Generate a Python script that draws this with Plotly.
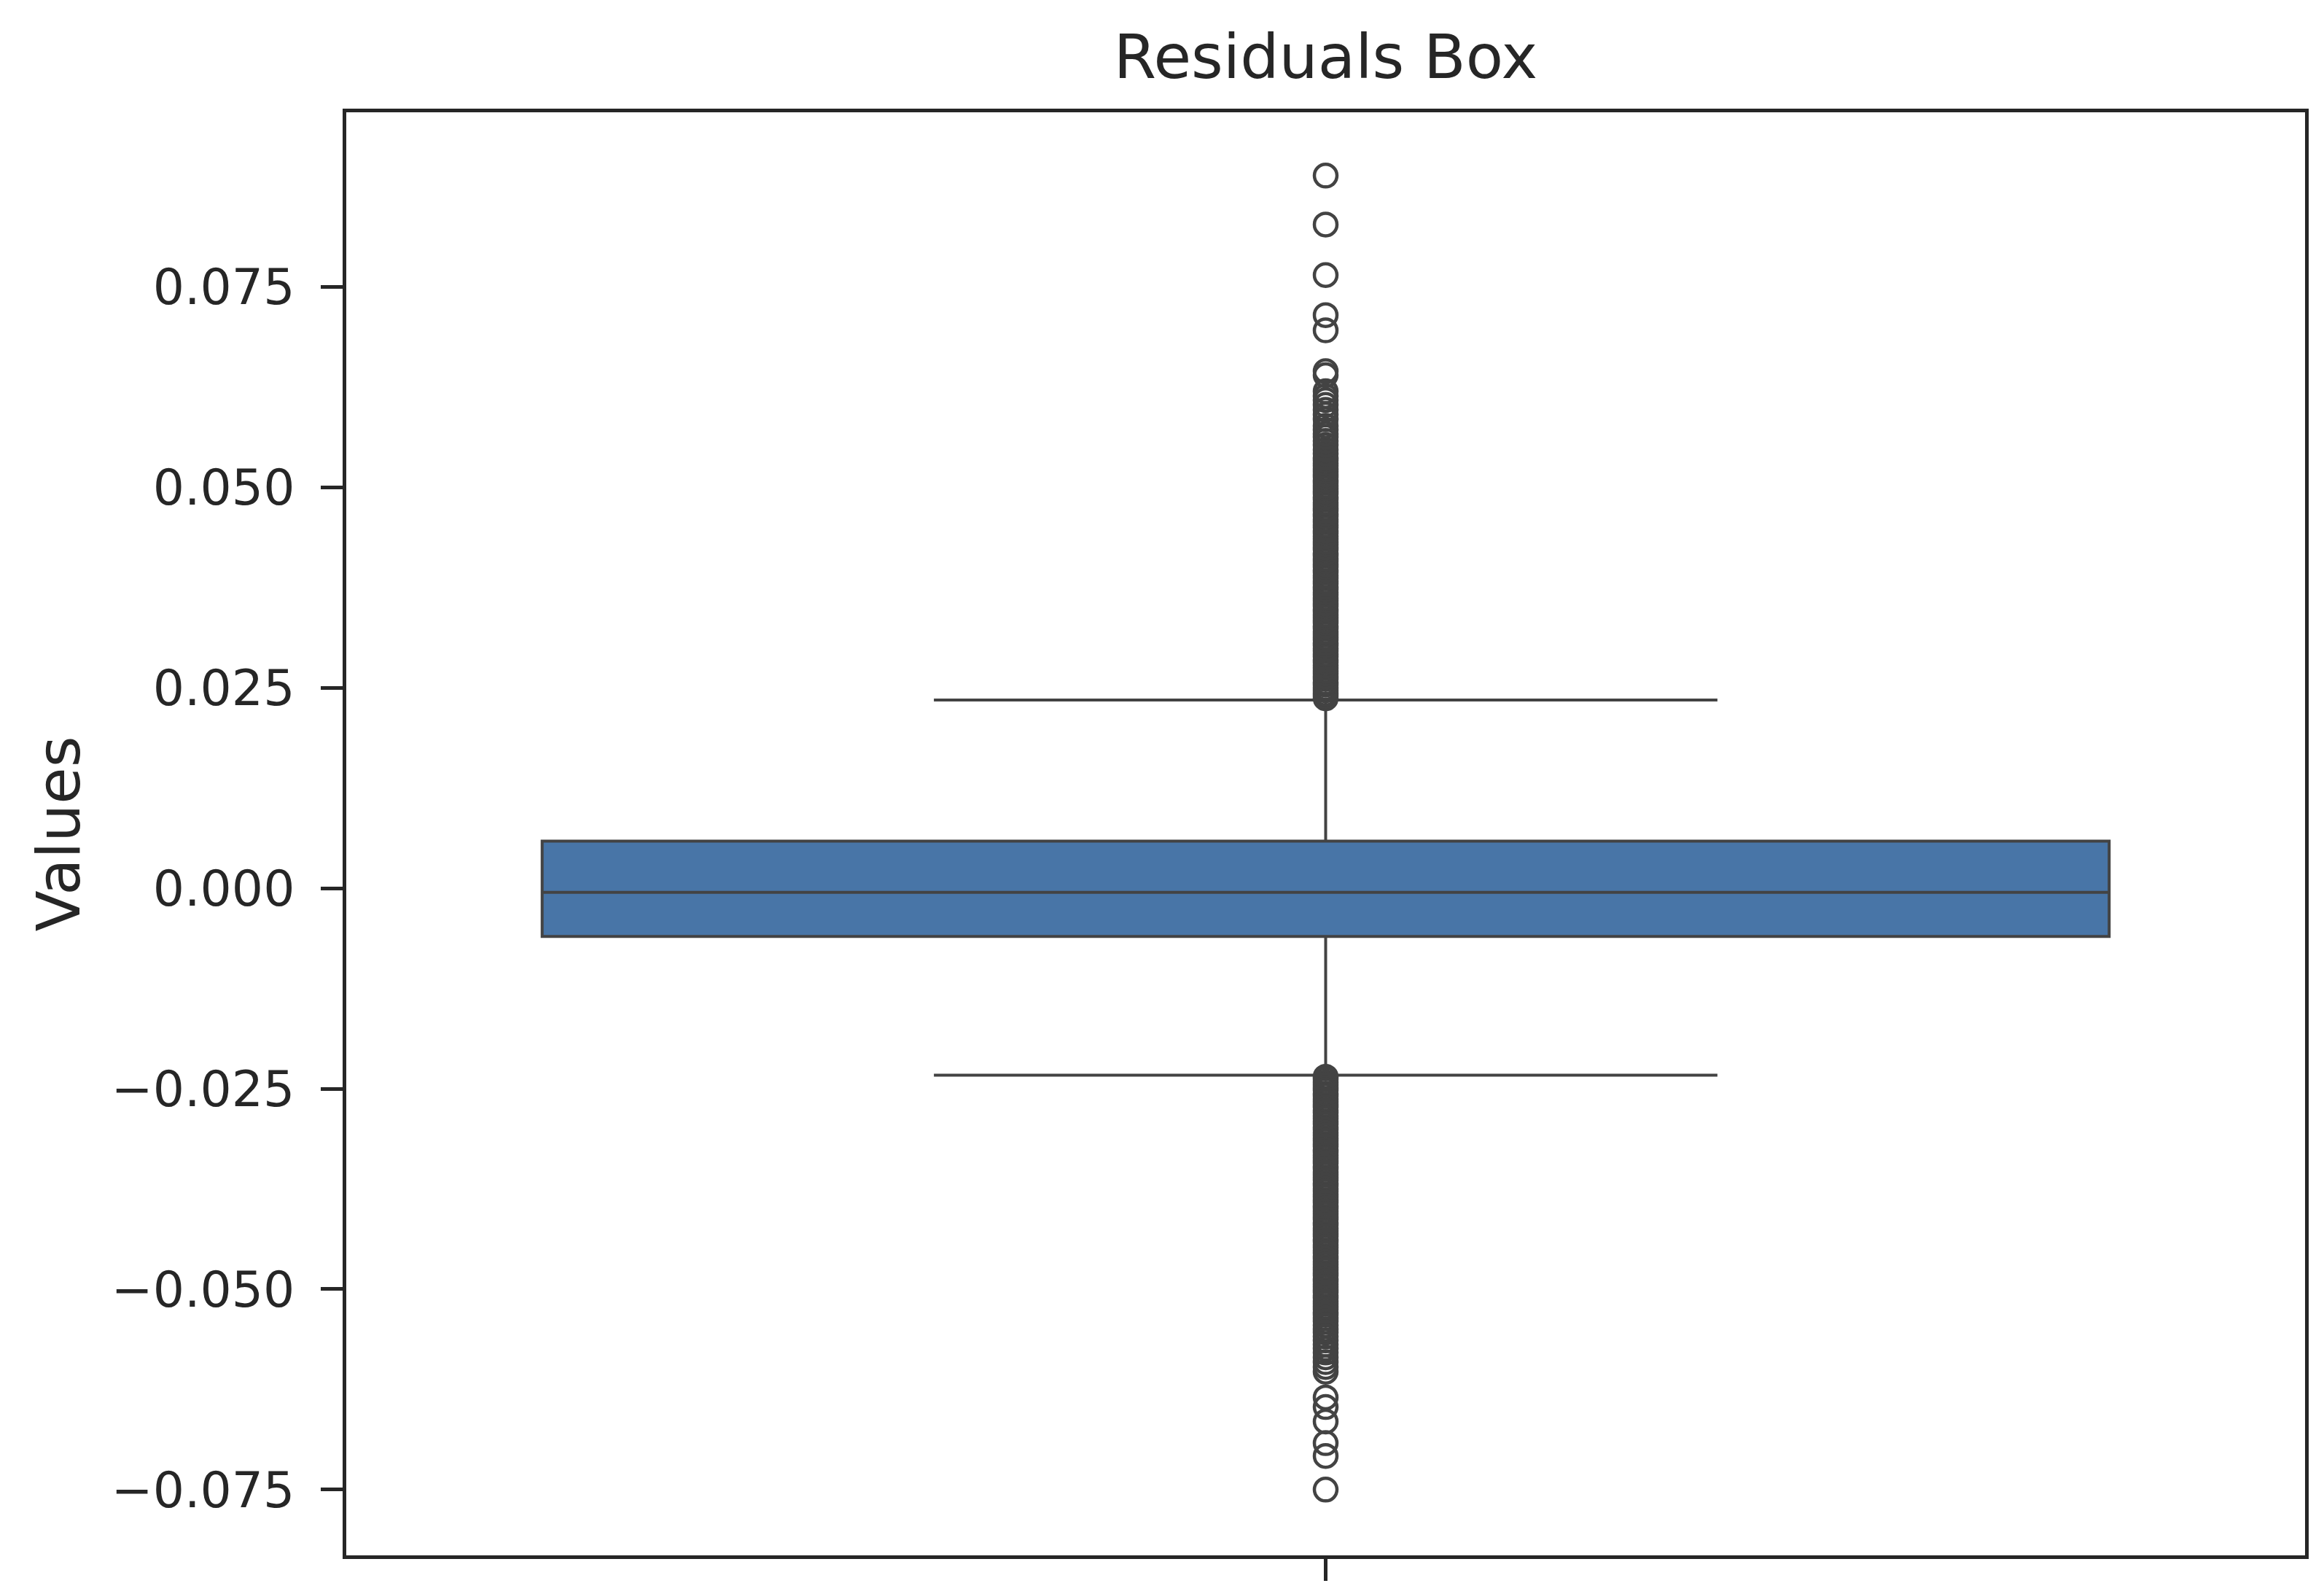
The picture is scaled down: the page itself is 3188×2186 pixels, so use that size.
import plotly.graph_objects as go

# ---------------- data ----------------
category = [0]
box_q1 = [-0.0060]
box_median = [-0.0005]
box_q3 = [0.0059]
whisker_low = [-0.0233]
whisker_high = [0.0235]

outliers_high = [
    0.0237, 0.0240, 0.0243, 0.0247, 0.0250, 0.0254, 0.0257, 0.0261, 0.0264, 0.0268,
    0.0271, 0.0275, 0.0278, 0.0282, 0.0285, 0.0289, 0.0292, 0.0296, 0.0299, 0.0303,
    0.0306, 0.0310, 0.0313, 0.0317, 0.0320, 0.0324, 0.0327, 0.0331, 0.0334, 0.0338,
    0.0341, 0.0345, 0.0348, 0.0352, 0.0355, 0.0359, 0.0362, 0.0366, 0.0369, 0.0373,
    0.0376, 0.0380, 0.0383, 0.0387, 0.0390, 0.0394, 0.0397, 0.0401, 0.0404, 0.0408,
    0.0411, 0.0415, 0.0418, 0.0422, 0.0425, 0.0429, 0.0432, 0.0436, 0.0439, 0.0443,
    0.0446, 0.0450, 0.0453, 0.0457, 0.0460, 0.0464, 0.0467, 0.0471, 0.0474, 0.0478,
    0.0481, 0.0485, 0.0488, 0.0492, 0.0495, 0.0499, 0.0502, 0.0506, 0.0509, 0.0513,
    0.0516, 0.0520, 0.0523, 0.0527, 0.0530, 0.0534, 0.0537, 0.0542, 0.0547, 0.0553,
    0.0558, 0.0563, 0.0567, 0.0572, 0.0577, 0.0585, 0.0591, 0.0597, 0.0603, 0.0609,
    0.0614, 0.0620, 0.0640, 0.0645, 0.0696, 0.0715, 0.0765, 0.0828, 0.0889,
]
outliers_low = [
    -0.0235, -0.0238, -0.0242, -0.0245, -0.0249, -0.0252, -0.0256, -0.0259, -0.0263, -0.0266,
    -0.0270, -0.0273, -0.0277, -0.0280, -0.0284, -0.0287, -0.0291, -0.0294, -0.0298, -0.0301,
    -0.0305, -0.0308, -0.0312, -0.0315, -0.0319, -0.0322, -0.0326, -0.0329, -0.0333, -0.0336,
    -0.0340, -0.0343, -0.0347, -0.0350, -0.0354, -0.0357, -0.0361, -0.0364, -0.0368, -0.0371,
    -0.0375, -0.0378, -0.0382, -0.0385, -0.0389, -0.0392, -0.0396, -0.0399, -0.0403, -0.0406,
    -0.0410, -0.0413, -0.0417, -0.0420, -0.0424, -0.0427, -0.0431, -0.0434, -0.0438, -0.0441,
    -0.0445, -0.0448, -0.0452, -0.0455, -0.0459, -0.0462, -0.0466, -0.0469, -0.0473, -0.0476,
    -0.0480, -0.0483, -0.0487, -0.0490, -0.0494, -0.0497, -0.0501, -0.0504, -0.0508, -0.0511,
    -0.0515, -0.0518, -0.0522, -0.0525, -0.0529, -0.0532, -0.0536, -0.0540, -0.0545, -0.0550,
    -0.0554, -0.0559, -0.0564, -0.0569, -0.0574, -0.0579, -0.0585, -0.0591, -0.0597, -0.0603,
    -0.0635, -0.0647, -0.0665, -0.0692, -0.0708, -0.0750,
]

y_tick_values = [-0.075, -0.050, -0.025, 0.000, 0.025, 0.050, 0.075]
y_tick_labels = ["\u22120.075", "\u22120.050", "\u22120.025", "0.000", "0.025", "0.050", "0.075"]
x_tick_labels = [""]

title_text = "Residuals Box"
y_label = "Values"

# ---------------- styles ----------------
FONT = "DejaVu Sans"
TEXT = "#262626"
LINE = "#434343"
FILL = "#4875A7"

W, H = 3188, 2186
ML, MR, MT, MB = 467, 34, 146, 61

outliers = outliers_high + outliers_low

fig = go.Figure()
fig.add_trace(go.Box(
    x=category,
    q1=box_q1, median=box_median, q3=box_q3,
    lowerfence=whisker_low, upperfence=whisker_high,
    orientation="v",
    width=0.8,
    whiskerwidth=0.5,
    fillcolor=FILL,
    line=dict(color=LINE, width=4),
    boxpoints=False,
    showlegend=False,
    hoverinfo="skip",
))
fig.add_trace(go.Scatter(
    x=category * len(outliers),
    y=outliers,
    mode="markers",
    marker=dict(symbol="circle-open", size=31, color=LINE, line=dict(width=4.5, color=LINE)),
    showlegend=False,
    hoverinfo="skip",
))

axis_common = dict(
    showline=True, linecolor=TEXT, linewidth=5, mirror=True,
    ticks="outside", tickcolor=TEXT, tickwidth=5,
    showgrid=False, zeroline=False,
    tickfont=dict(family=FONT, size=68, color=TEXT),
)

fig.update_xaxes(
    range=[-0.5, 0.5], tickmode="array", tickvals=category, ticktext=x_tick_labels,
    ticklen=30, **axis_common,
)
fig.update_yaxes(
    range=[-0.0832, 0.0968], tickmode="array", tickvals=y_tick_values, ticktext=y_tick_labels,
    ticklen=30, ticklabelstandoff=22, **axis_common,
)

plot_w = W - ML - MR
fig.update_layout(
    width=W, height=H,
    margin=dict(l=ML, r=MR, t=MT, b=MB, pad=0),
    paper_bgcolor="white", plot_bgcolor="white",
    title=dict(text=title_text, x=0.5, xref="paper", y=1 - 70 / H, yref="container",
               xanchor="center", yanchor="middle",
               font=dict(family=FONT, size=84, color=TEXT)),
    annotations=[dict(
        text=y_label, textangle=-90, xref="paper", yref="paper",
        x=(72 - ML) / plot_w, y=0.5, xanchor="center", yanchor="middle",
        showarrow=False, font=dict(family=FONT, size=82, color=TEXT),
    )],
)

fig.write_html("out.html")
